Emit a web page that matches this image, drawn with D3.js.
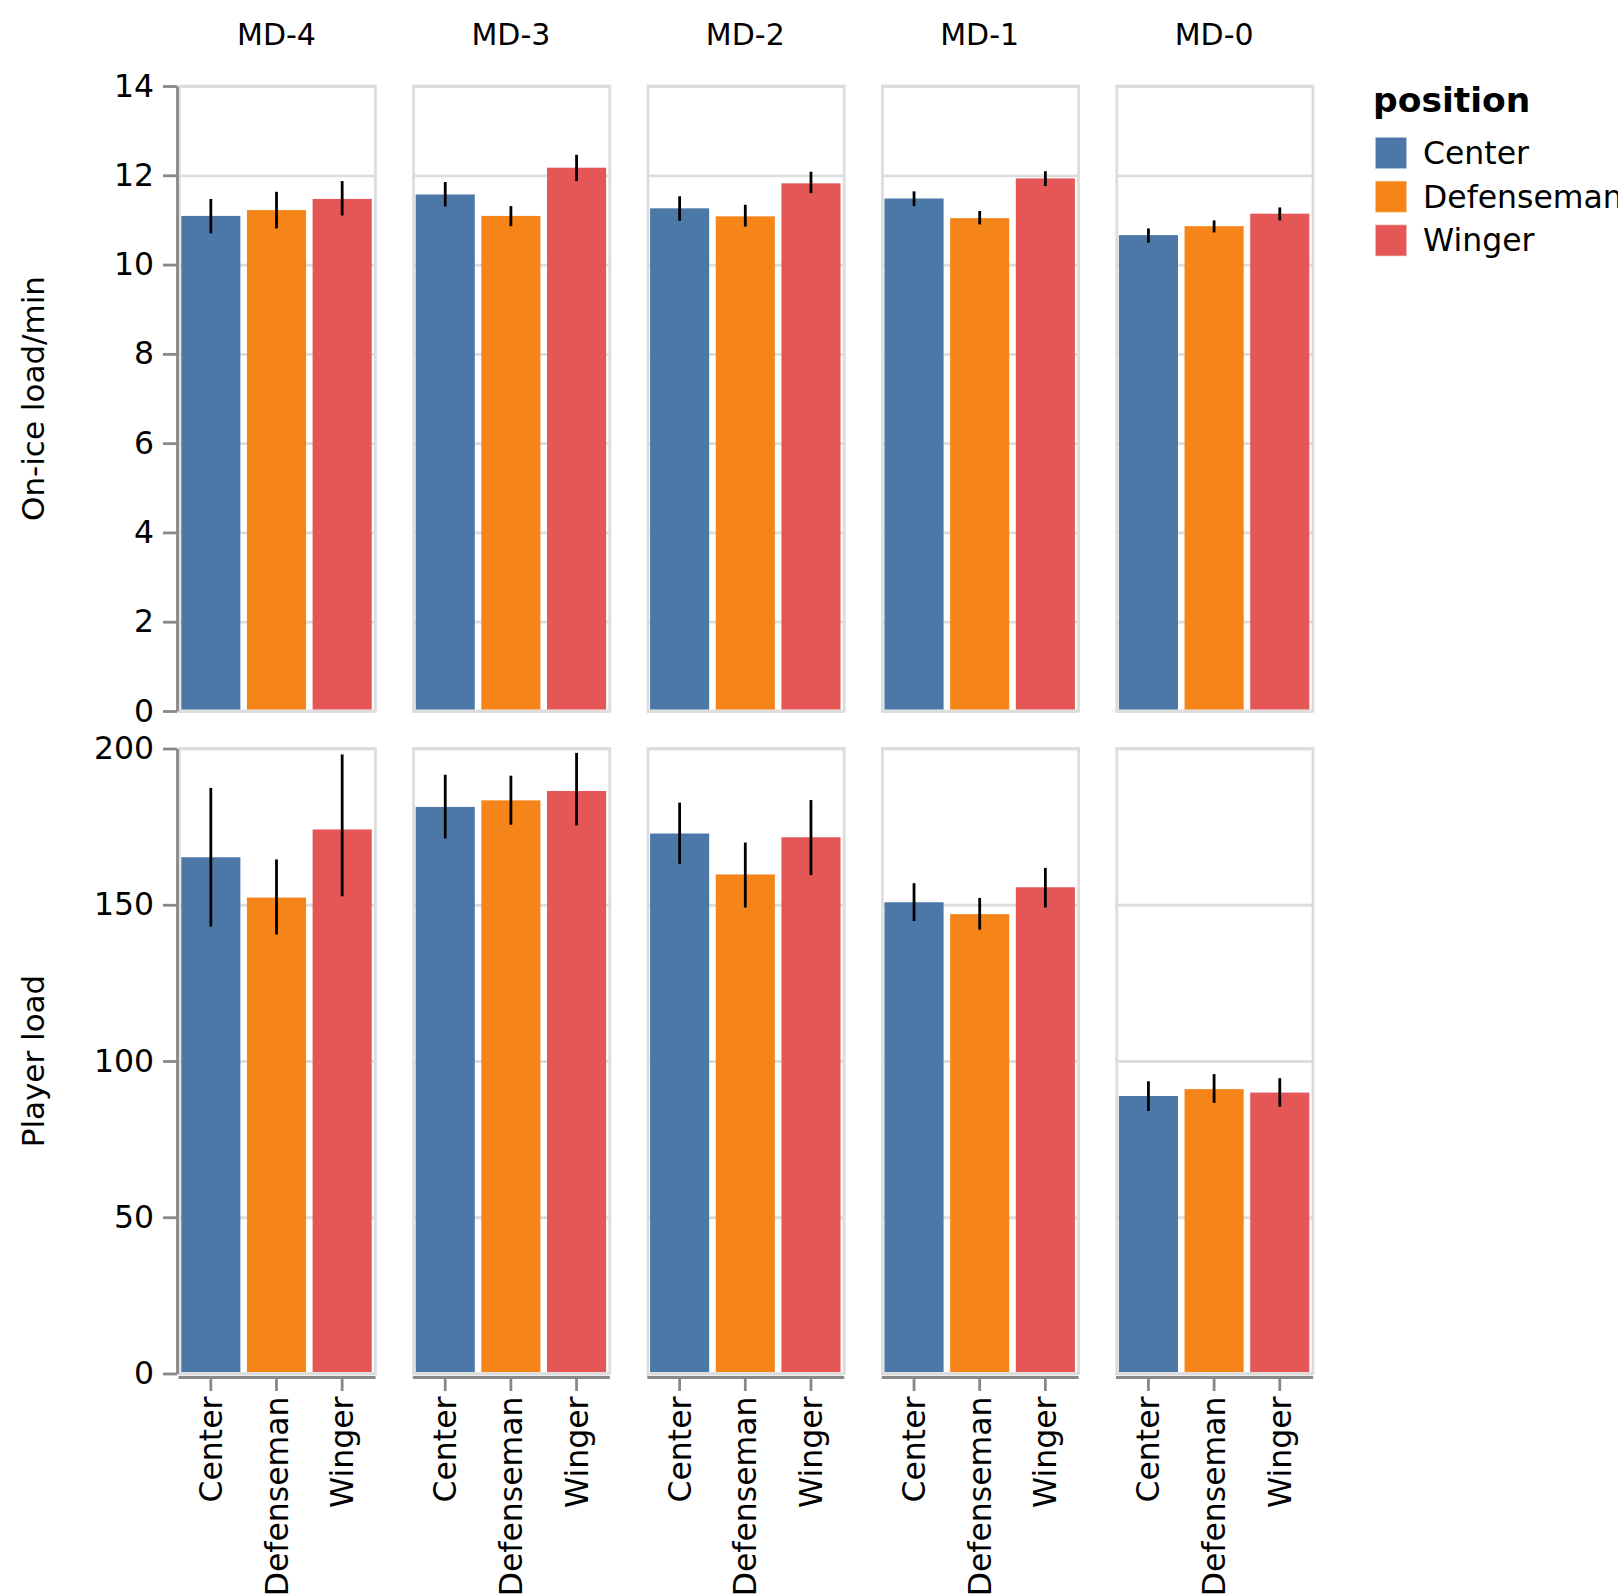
<!DOCTYPE html>
<html>
<head>
<meta charset="utf-8">
<script src="https://cdn.jsdelivr.net/npm/d3@7"></script>
<style>
  html, body { margin: 0; padding: 0; background: #fff; }
  text { font-family: "DejaVu Sans", sans-serif; fill: #000; }
</style>
</head>
<body>
<svg id="chart" width="1618" height="1594"></svg>
<script>
// ---------------- data ----------------
const days = ["MD-4", "MD-3", "MD-2", "MD-1", "MD-0"];
const positions = ["Center", "Defenseman", "Winger"];
const colors = ["#4c78a8", "#f58518", "#e45756"];

// On-ice load/min : mean, lower, upper  (rows = days, cols = positions)
const onIceMean = [
  [11.09, 11.22, 11.47],
  [11.57, 11.09, 12.17],
  [11.26, 11.08, 11.82],
  [11.48, 11.04, 11.93],
  [10.66, 10.86, 11.14]
];
const onIceLow = [
  [10.70, 10.81, 11.10],
  [11.30, 10.86, 11.87],
  [10.98, 10.85, 11.60],
  [11.31, 10.90, 11.76],
  [10.49, 10.72, 10.99]
];
const onIceHigh = [
  [11.47, 11.63, 11.87],
  [11.85, 11.31, 12.46],
  [11.53, 11.34, 12.08],
  [11.64, 11.20, 12.09],
  [10.81, 10.99, 11.28]
];

// Player load : mean, lower, upper
const loadMean = [
  [165.2, 152.3, 174.1],
  [181.3, 183.4, 186.4],
  [172.8, 159.7, 171.6],
  [150.8, 147.0, 155.6],
  [88.8, 91.0, 89.9]
];
const loadLow = [
  [143.0, 140.5, 152.7],
  [171.2, 175.6, 175.4],
  [163.1, 149.1, 159.5],
  [144.8, 142.0, 149.1],
  [84.0, 86.6, 85.4]
];
const loadHigh = [
  [187.4, 164.5, 198.1],
  [191.6, 191.3, 198.6],
  [182.7, 169.9, 183.5],
  [156.9, 152.2, 161.8],
  [93.5, 95.8, 94.5]
];

const onIceTicks = [0, 2, 4, 6, 8, 10, 12, 14];
const loadTicks = [0, 50, 100, 150, 200];

// ---------------- layout ----------------
const svg = d3.select("#chart");
const panelX0 = 178, panelStep = 234.4, panelW = 197, panelH = 625;
const rows = [
  { y0: 86, title: "On-ice load/min", mean: onIceMean, low: onIceLow, high: onIceHigh, ticks: onIceTicks, max: 14 },
  { y0: 748.5, title: "Player load", mean: loadMean, low: loadLow, high: loadHigh, ticks: loadTicks, max: 200 }
];
const gridColor = "#ddd", axisColor = "#888";
const sw = 2.8;
const labelSize = 31.5;

const x = d3.scaleBand().domain(positions).range([0, panelW]).paddingInner(0.1).paddingOuter(0.05);
const color = d3.scaleOrdinal().domain(positions).range(colors);

rows.forEach((row, ri) => {
  const y = d3.scaleLinear().domain([0, row.max]).range([panelH, 0]);
  days.forEach((day, di) => {
    const g = svg.append("g").attr("transform", `translate(${panelX0 + di * panelStep},${row.y0})`);
    // grid
    const grid = g.append("g").call(d3.axisLeft(y).tickValues(row.ticks).tickSize(-panelW).tickFormat(""));
    grid.select(".domain").remove();
    grid.selectAll("line").attr("stroke", gridColor).attr("stroke-width", sw);
    // border
    g.append("rect").attr("x", 1.2).attr("y", 0).attr("width", panelW - 0.8).attr("height", panelH)
      .attr("fill", "none").attr("stroke", gridColor).attr("stroke-width", sw);
    // bars
    g.selectAll("rect.bar").data(positions).enter().append("rect")
      .attr("class", "bar")
      .attr("x", p => x(p))
      .attr("width", x.bandwidth())
      .attr("y", (p, pi) => y(row.mean[di][pi]))
      .attr("height", (p, pi) => y(0) - y(row.mean[di][pi]) - 1.5)
      .attr("fill", p => color(p));
    // error bars
    g.selectAll("line.err").data(positions).enter().append("line")
      .attr("class", "err")
      .attr("x1", p => x(p) + x.bandwidth() / 2)
      .attr("x2", p => x(p) + x.bandwidth() / 2)
      .attr("y1", (p, pi) => y(row.low[di][pi]))
      .attr("y2", (p, pi) => y(row.high[di][pi]))
      .attr("stroke", "#000").attr("stroke-width", sw);

    // y axis on first column
    if (di === 0) {
      const ax = g.append("g").attr("transform", "translate(-1,0)")
        .call(d3.axisLeft(y).tickValues(row.ticks).tickSize(14).tickPadding(9).tickSizeOuter(0));
      ax.select(".domain").attr("stroke", axisColor).attr("stroke-width", sw);
      ax.selectAll(".tick line").attr("stroke", axisColor).attr("stroke-width", sw);
      ax.selectAll(".tick text").attr("font-size", labelSize).attr("font-family", "DejaVu Sans").attr("fill", "#000");
    }
    // x axis on bottom row
    if (ri === 1) {
      const ax = g.append("g").attr("transform", `translate(0,${panelH + 3.5})`)
        .call(d3.axisBottom(x).tickSize(14).tickSizeOuter(0));
      ax.select(".domain").attr("stroke", axisColor).attr("stroke-width", sw);
      ax.selectAll(".tick line").attr("stroke", axisColor).attr("stroke-width", sw);
      ax.selectAll(".tick text")
        .attr("font-size", labelSize).attr("font-family", "DejaVu Sans").attr("fill", "#000")
        .attr("transform", "rotate(-90)")
        .attr("text-anchor", "end")
        .attr("x", -19.5).attr("y", 0).attr("dy", "0.35em");
    }
    // facet header
    if (ri === 0) {
      svg.append("text")
        .attr("x", panelX0 + di * panelStep + panelW / 2)
        .attr("y", 44.5)
        .attr("text-anchor", "middle")
        .attr("font-size", 30)
        .text(day);
    }
  });
  // row title
  svg.append("text")
    .attr("transform", `translate(44,${row.y0 + panelH / 2}) rotate(-90)`)
    .attr("text-anchor", "middle")
    .attr("font-size", 31)
    .text(row.title);
});

// ---------------- legend ----------------
const legend = svg.append("g").attr("transform", "translate(1373,0)");
legend.append("text").attr("x", 0).attr("y", 112).attr("font-size", 34.5).attr("font-weight", "bold").text("position");
positions.forEach((p, i) => {
  const yy = 138 + i * 43.7;
  legend.append("rect").attr("x", 3).attr("y", yy).attr("width", 30).attr("height", 30)
    .attr("fill", color(p)).attr("stroke", color(p)).attr("stroke-opacity", 0.6).attr("stroke-width", 1.5);
  legend.append("text").attr("x", 50).attr("y", yy + 15).attr("dy", "0.35em").attr("font-size", labelSize).text(p);
});
</script>
</body>
</html>
